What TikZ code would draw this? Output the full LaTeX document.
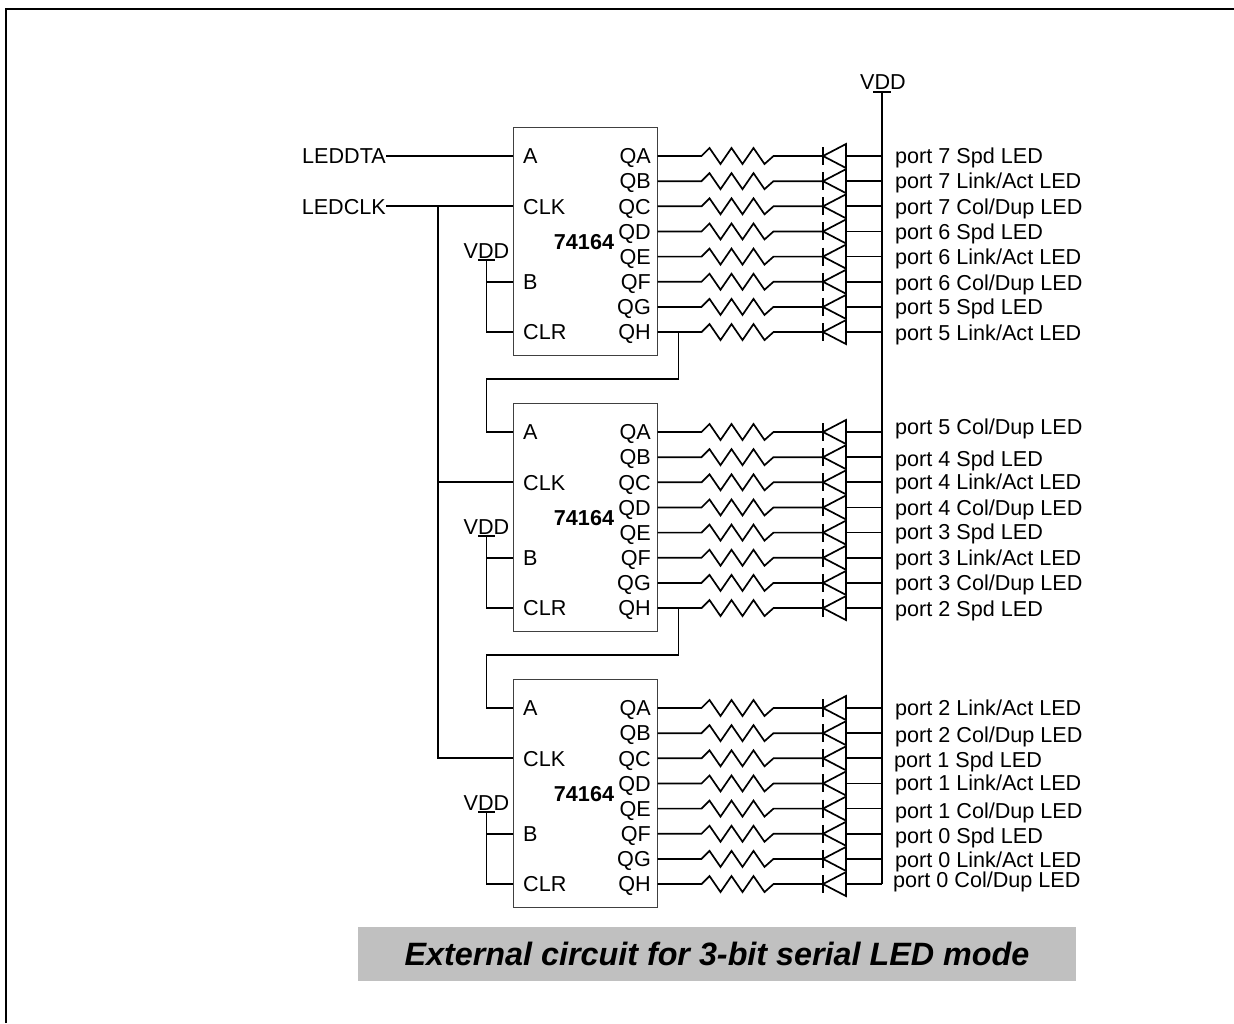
\documentclass[tikz,border=0pt]{standalone}
\usepackage{fontspec}
\setmainfont{Liberation Sans}
\definecolor{captiongray}{RGB}{192,192,192}
\tikzset{
  wire/.style={line width=1.7pt},
  chip/.style={draw=black!75, line width=1pt, minimum width=144pt, minimum height=228pt, inner sep=0pt},
  pin/.style={inner sep=0pt, font=\fontsize{21.6}{26}\selectfont},
  partno/.style={inner sep=0pt, font=\fontsize{21.6}{26}\selectfont\bfseries},
  caption/.style={fill=captiongray, minimum width=718pt, minimum height=54pt, inner sep=0pt,
    font=\fontsize{32.3}{36}\selectfont\bfseries\itshape}
}
\begin{document}
\begin{tikzpicture}[x=1pt,y=-1pt]
\useasboundingbox (0,0) rectangle (1234,1023);
% frame
\draw[line width=2pt] (6,1023) -- (6,9) -- (1234,9);

% three shift registers with resistors and LEDs
\foreach \c/\t in {1/0,2/276,3/552}{
  \node[chip] (u\c) at (585,241+\t) {};
  \node[partno] (n\c) at (584,242+\t) {74164};
  \node[pin,anchor=base west] (a\c) at (523,156+\t+7.7) {A};
  \node[pin,anchor=base west] (clk\c) at (523,206.3+\t+7.7) {CLK};
  \node[pin,anchor=base west] (b\c) at (523,281.75+\t+7.7) {B};
  \node[pin,anchor=base west] (clr\c) at (523,332+\t+7.7) {CLR};
  \foreach \q [count=\k from 0] in {A,B,C,D,E,F,G,H}{
    \pgfmathsetmacro\yy{156+25.15*\k+\t}
    \node[pin,anchor=base east] (q\c\q) at (651,\yy+7.7) {Q\q};
    \coordinate (o\c\q) at (u\c.east |- 0,\yy);
    \coordinate (d\c\q) at (823,\yy);
    \coordinate (v\c\q) at (882,\yy);
    \draw[wire] (o\c\q) -- ++(44,0) -- ++(8,-8) -- ++(11,16) -- ++(11,-16) -- ++(11,16)
      -- ++(11,-16) -- ++(11,16) -- ++(9,-8) -- (d\c\q);
    \draw[wire] (d\c\q) ++(0,-9) -- ++(0,18);
    \draw[wire] (d\c\q) -- ++(23,-12) -- ++(0,24) -- cycle;
    \draw[wire] (d\c\q) ++(23,0) -- (v\c\q);
  }
  % VDD on B and CLR
  \node[pin,anchor=base] (vdd\c) at (486.5,258+\t) {VDD};
  \coordinate (t\c) at (486.5,260+\t);
  \draw[wire] (478,260+\t) -- (495,260+\t);
  \draw[wire] (t\c) |- (u\c.west |- 0,332+\t);
  \draw[wire] (t\c |- 0,281.75+\t) -- (u\c.west |- 0,281.75+\t);
}

% inputs
\node[pin,anchor=base east] (leddta) at (386,156+7.7) {LEDDTA};
\node[pin,anchor=base east] (ledclk) at (386,206.3+7.7) {LEDCLK};
\draw[wire] (386,156) -- (u1.west |- 0,156);
\draw[wire] (386,206.3) -- (u1.west |- 0,206.3);
\coordinate (bus) at (438,206.3);
\draw[wire] (bus) -- (bus |- 0,758.3) -- (u3.west |- 0,758.3);
\draw[wire] (bus |- 0,482.3) -- (u2.west |- 0,482.3);

% cascade QH -> A
\draw[wire] (o1H) ++(21,0) -- ++(0,47) -| (t2 |- 0,432) -- (u2.west |- 0,432);
\draw[wire] (o2H) ++(21,0) -- ++(0,47) -| (t3 |- 0,708) -- (u3.west |- 0,708);

% VDD rail
\node[pin,anchor=base] (vddrail) at (883,89) {VDD};
\coordinate (rail) at (882,92);
\draw[wire] (873,92) -- (891,92);
\draw[wire] (rail) -- (v3H);

% LED names
\foreach \x/\y/\txt [count=\n] in {
  895/156/{port 7 Spd LED}, 895/181/{port 7 Link/Act LED}, 895/206.5/{port 7 Col/Dup LED},
  895/232/{port 6 Spd LED}, 895/257/{port 6 Link/Act LED}, 895/282.5/{port 6 Col/Dup LED},
  895/307/{port 5 Spd LED}, 895/332.5/{port 5 Link/Act LED},
  895/426.7/{port 5 Col/Dup LED}, 895/459/{port 4 Spd LED}, 895/481.7/{port 4 Link/Act LED},
  895/508/{port 4 Col/Dup LED}, 895/531.7/{port 3 Spd LED}, 895/558/{port 3 Link/Act LED},
  895/583/{port 3 Col/Dup LED}, 895/608.7/{port 2 Spd LED},
  895/707.5/{port 2 Link/Act LED}, 895/735/{port 2 Col/Dup LED}, 894/760/{port 1 Spd LED},
  895/783/{port 1 Link/Act LED}, 895/811/{port 1 Col/Dup LED}, 895/835.5/{port 0 Spd LED},
  895/860/{port 0 Link/Act LED}, 893/880/{port 0 Col/Dup LED}}
  \node[pin,anchor=base west] (led\n) at (\x,\y+7.7) {\txt};

% caption
\node[caption] (cap) at (717,954) {\raisebox{-3pt}{External circuit for 3-bit serial LED mode}};
\end{tikzpicture}
\end{document}
